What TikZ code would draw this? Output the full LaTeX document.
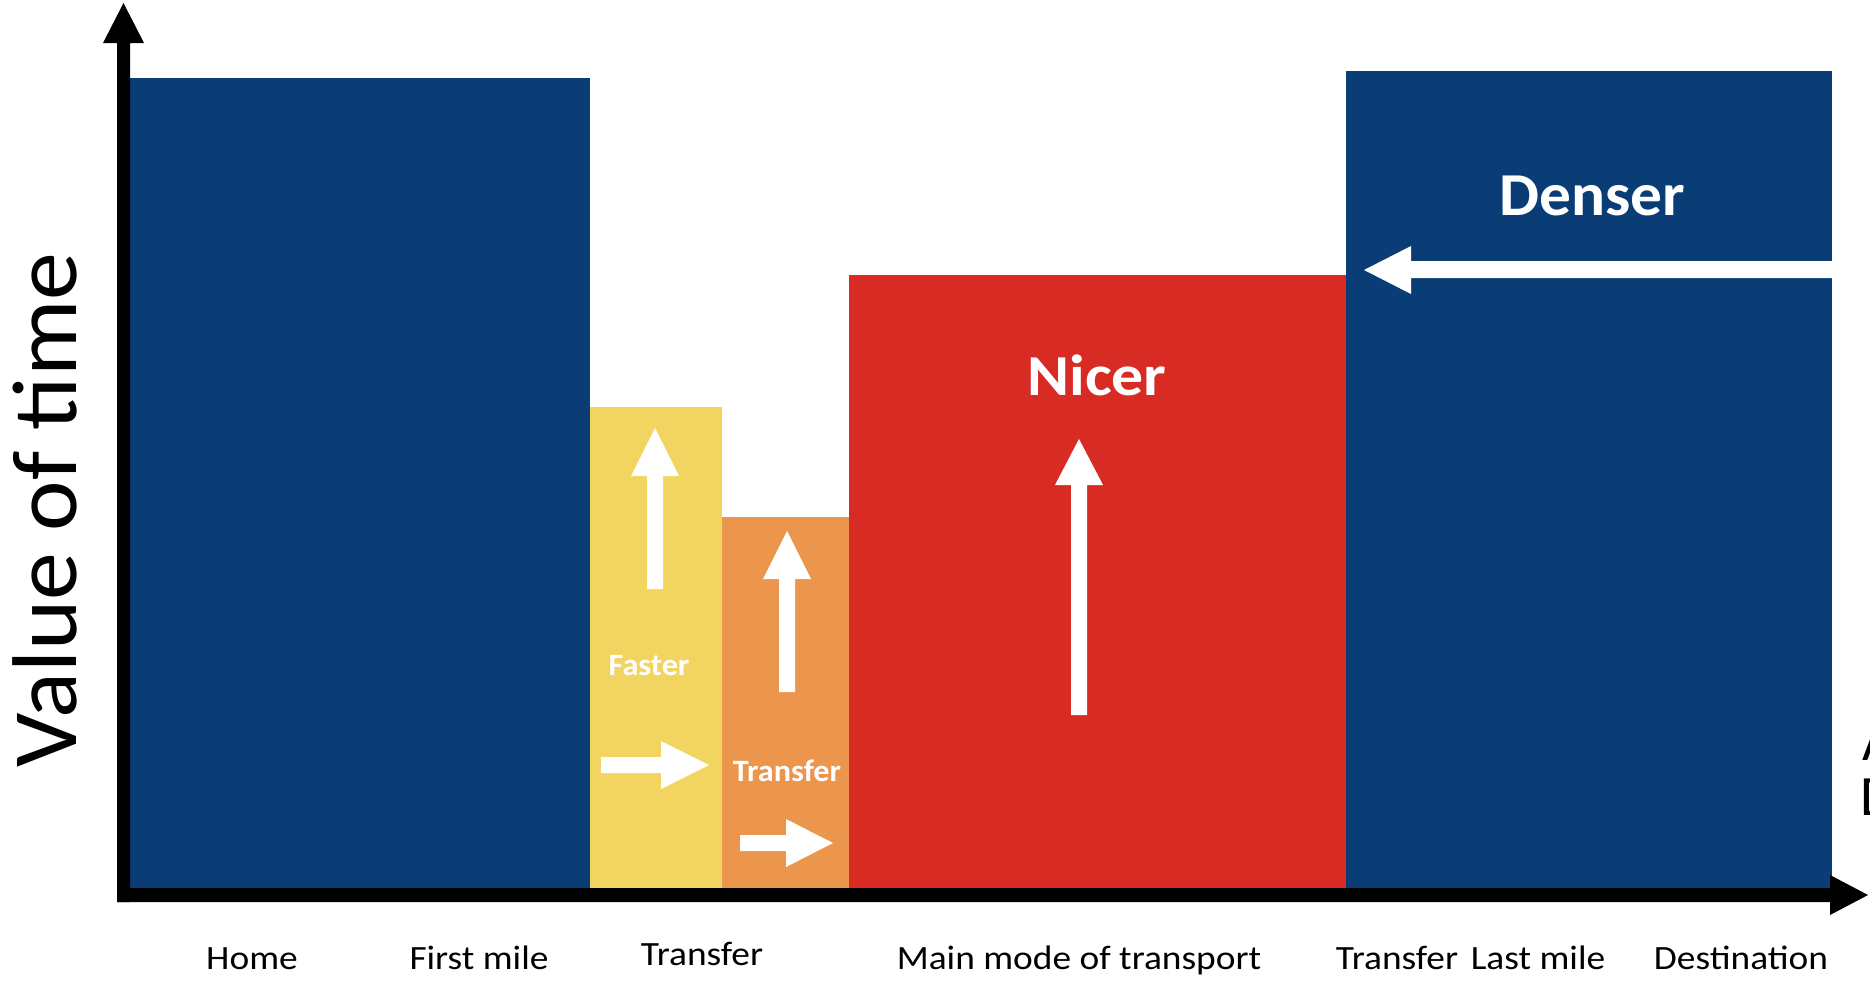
\documentclass[tikz,border=0pt]{standalone}
\usepackage{fontspec}
\setmainfont{Carlito}
\newfontfamily\widefont[FakeStretch=1.10]{Carlito}
\newfontfamily\slightwide[FakeStretch=1.04]{Carlito}
\definecolor{navy}{RGB}{10,60,118}
\definecolor{sun}{RGB}{242,212,96}
\definecolor{amber}{RGB}{236,150,77}
\definecolor{brick}{RGB}{216,43,36}
\tikzset{
  whitearrow/.style={fill=white, draw=none},
  axisline/.style={fill=black, draw=none},
  tick/.style={inner sep=0pt, anchor=base, text=black, font=\widefont\fontsize{34}{40}\selectfont},
  inlabel/.style={inner sep=0pt, anchor=base, text=white, font=\slightwide\bfseries\fontsize{31}{36}\selectfont},
  biglabel/.style={inner sep=0pt, anchor=base, text=white},
}
\begin{document}
\begin{tikzpicture}[x=1pt, y=-1pt]
\useasboundingbox (0,0) rectangle (1870,980);
\begin{scope}
\clip (0,0) rectangle (1870,980);

% bars
\fill[navy]  (130,78)  rectangle (590,888);
\fill[sun]   (590,407) rectangle (722,888);
\fill[amber] (722,517) rectangle (849,888);
\fill[brick] (849,275) rectangle (1346,888);
\fill[navy]  (1346,71) rectangle (1832,888);

% axes
\fill[axisline] (117,902) -- (117,43) -- (103,43) -- (123.5,3) -- (144,43) -- (130,43) -- (130,902) -- cycle;
\fill[axisline] (117,888) -- (1830,888) -- (1830,875) -- (1868,895) -- (1830,915) -- (1830,902) -- (117,902) -- cycle;

% up arrows
\fill[whitearrow] (647,589) -- (647,476) -- (631,476) -- (655,428) -- (679,476) -- (663,476) -- (663,589) -- cycle;
\fill[whitearrow] (779,692) -- (779,579) -- (763,579) -- (787,531) -- (811,579) -- (795,579) -- (795,692) -- cycle;
\fill[whitearrow] (1071,715) -- (1071,485) -- (1055,485) -- (1079,439) -- (1103,485) -- (1087,485) -- (1087,715) -- cycle;

% right arrows
\fill[whitearrow] (601,757) -- (661,757) -- (661,741) -- (709,765) -- (661,789) -- (661,773) -- (601,773) -- cycle;
\fill[whitearrow] (740,835) -- (786,835) -- (786,819) -- (833,843) -- (786,867) -- (786,851) -- (740,851) -- cycle;

% left arrow
\fill[whitearrow] (1832,261) -- (1411,261) -- (1411,246) -- (1364,270) -- (1411,294) -- (1411,278) -- (1832,278) -- cycle;

% labels inside the bars
\node[inlabel] (faster) at (649,675) {Faster};
\node[inlabel] (transferin) at (787,781) {Transfer};
\node[biglabel, font=\widefont\bfseries\fontsize{58}{68}\selectfont] (nicer) at (1097,395) {Nicer};
\node[biglabel, font=\slightwide\bfseries\fontsize{61}{70}\selectfont] (denser) at (1592,215) {Denser};

% axis title
\node[inner sep=0pt, anchor=base, rotate=90, font=\slightwide\fontsize{92}{100}\selectfont] (vot) at (76,510) {Value of time};

% stages along the journey
\node[tick] (home) at (252,969) {Home};
\node[tick] (first) at (479,969) {First mile};
\node[tick] (transfer1) at (702,965) {Transfer};
\node[tick] (main) at (1079,969) {Main mode of transport};
\node[tick] (transfer2) at (1397,969) {Transfer};
\node[tick] (last) at (1538,969) {Last mile};
\node[tick] (dest) at (1741,969) {Destination};

% text running off the right edge
\node[inner sep=0pt, anchor=base west, font=\fontsize{57}{60}\selectfont] (edgeA) at (1862,760) {A};
\node[inner sep=0pt, anchor=base west, font=\fontsize{57}{60}\selectfont] (edgeD) at (1860,815) {D};
\end{scope}
\end{tikzpicture}
\end{document}
